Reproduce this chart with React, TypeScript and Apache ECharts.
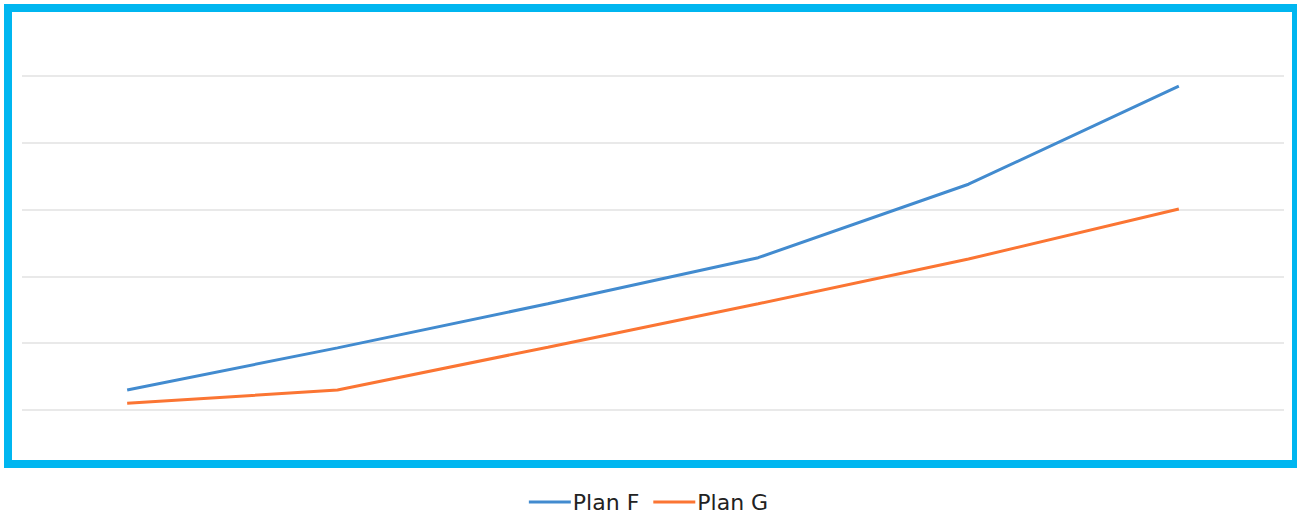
import React, { useEffect, useRef } from "react";
import * as echarts from "echarts";

const categories = ["1", "2", "3", "4", "5", "6"];
const planF = [0.3, 0.93, 1.59, 2.28, 3.38, 4.85];
const planG = [0.1, 0.3, 0.94, 1.59, 2.26, 3.01];
const seriesNames = ["Plan F", "Plan G"];

export default function App() {
  const ref = useRef<HTMLDivElement>(null);
  useEffect(() => {
    const chart = echarts.init(ref.current!, null, { renderer: "svg" });
    chart.setOption({
      animation: false,
      backgroundColor: "#ffffff",
      graphic: [
        {
          type: "rect",
          shape: { x: 8, y: 8, width: 1288, height: 456 },
          style: { fill: "none", stroke: "#00B6F0", lineWidth: 8 },
          z: 10,
        },
      ],
      legend: {
        data: seriesNames,
        left: "center",
        top: 491,
        padding: 0,
        icon: "rect",
        itemWidth: 42,
        itemHeight: 3,
        itemGap: 14,
        textStyle: {
          fontFamily: "DejaVu Sans",
          fontSize: 22,
          lineHeight: 22,
          color: "#222222",
          padding: [0, 0, 0, -3],
        },
      },
      grid: { left: 22, right: 13, top: 76, bottom: 106 },
      xAxis: {
        type: "category",
        data: categories,
        boundaryGap: true,
        axisLine: { show: false },
        axisTick: { show: false },
        axisLabel: { show: false },
      },
      yAxis: {
        type: "value",
        min: 0,
        max: 5,
        interval: 1,
        axisLabel: { show: false },
        axisLine: { show: false },
        axisTick: { show: false },
        splitLine: { lineStyle: { color: "#e2e2e2", width: 1.5 } },
      },
      series: [
        {
          name: seriesNames[0],
          type: "line",
          data: planF,
          symbol: "none",
          lineStyle: { color: "#428BCF", width: 3 },
          itemStyle: { color: "#428BCF" },
        },
        {
          name: seriesNames[1],
          type: "line",
          data: planG,
          symbol: "none",
          lineStyle: { color: "#FB7533", width: 3 },
          itemStyle: { color: "#FB7533" },
        },
      ],
    });
    return () => chart.dispose();
  }, []);
  return (
    <div
      ref={ref}
      style={{ position: "absolute", left: 0, top: 0, width: 1297, height: 516 }}
    />
  );
}
